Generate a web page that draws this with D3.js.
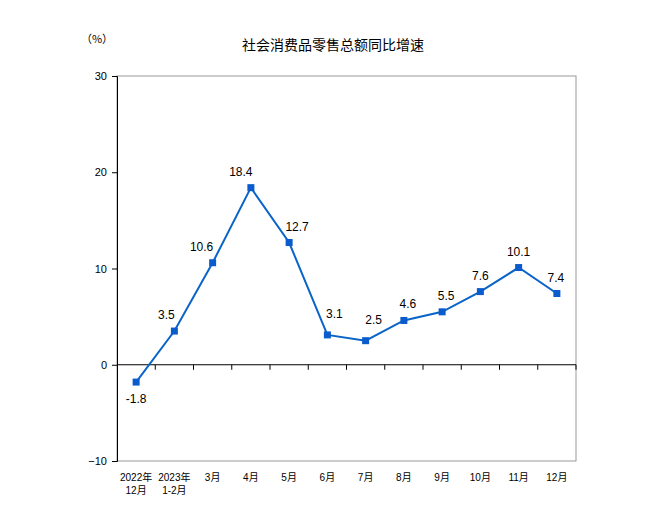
<!DOCTYPE html>
<html><head><meta charset="utf-8">
<script src="https://cdn.jsdelivr.net/npm/d3@7"></script>
<style>body{margin:0;background:#fff}svg{display:block}</style>
</head><body><div id="c"></div>
<script>
const categories = ["2022年\n12月","2023年\n1-2月","3月","4月","5月","6月","7月","8月","9月","10月","11月","12月"];
const values = [-1.8, 3.5, 10.6, 18.4, 12.7, 3.1, 2.5, 4.6, 5.5, 7.6, 10.1, 7.4];
const yTicks = [-10, 0, 10, 20, 30];
const title = "社会消费品零售总额同比增速";
const unit = "（%）";

const W = 664, H = 528;
const m = {l:117, r:88, t:76, b:67};
const svg = d3.select("#c").append("svg").attr("width", W).attr("height", H);
const font = "Arial, 'Liberation Sans', 'Noto Sans CJK SC', sans-serif";

const x = d3.scaleBand().domain(d3.range(categories.length)).range([m.l, W - m.r]);
const y = d3.scaleLinear().domain([-10, 30]).range([H - m.b, m.t]);

// frame (gray)
svg.append("rect").attr("x", m.l).attr("y", m.t).attr("width", W - m.r - m.l).attr("height", H - m.b - m.t)
  .attr("fill", "none").attr("stroke", "#999").attr("stroke-width", 1);

// y axis
const ya = svg.append("g").attr("transform", `translate(${m.l},0)`)
  .call(d3.axisLeft(y).tickValues(yTicks).tickSize(5).tickPadding(5));
ya.select(".domain").attr("stroke", "#000");
ya.selectAll(".tick line").attr("stroke", "#000");
ya.selectAll("text").attr("font-family", font).attr("font-size", 11).attr("fill", "#000");

// zero line with ticks at band boundaries
svg.append("line").attr("x1", m.l).attr("x2", W - m.r).attr("y1", y(0)).attr("y2", y(0)).attr("stroke", "#000");
svg.append("g").selectAll("line").data(d3.range(1, categories.length + 1)).join("line")
  .attr("x1", i => m.l + i * x.step()).attr("x2", i => m.l + i * x.step())
  .attr("y1", y(0)).attr("y2", y(0) + 5).attr("stroke", "#000");

// x labels
const xl = svg.append("g").selectAll("text").data(categories).join("text")
  .attr("font-family", font).attr("font-size", 10).attr("text-anchor", "middle").attr("fill", "#000");
xl.each(function(d, i){
  const lines = d.split("\n");
  const t = d3.select(this);
  lines.forEach((s, k) => t.append("tspan").attr("x", x(i) + x.bandwidth()/2).attr("y", H - m.b + 20 + k * 13).text(s));
});

// line
const cx = i => x(i) + x.bandwidth()/2;
svg.append("path").datum(values)
  .attr("d", d3.line().x((d,i) => cx(i)).y(d => y(d)))
  .attr("fill", "none").attr("stroke", "#0a64c8").attr("stroke-width", 2);
svg.append("g").selectAll("rect").data(values).join("rect")
  .attr("x", (d,i) => cx(i) - 3.5).attr("y", d => y(d) - 3.5).attr("width", 7).attr("height", 7)
  .attr("fill", "#0a5ccc");

// data labels
const labelShift = [0, -8, -11, -10, 8, 7, 8, 4, 4, 0, 0, -1];
svg.append("g").selectAll("text").data(values).join("text")
  .attr("x", (d,i) => cx(i) + labelShift[i])
  .attr("y", (d,i) => d < 0 ? y(d) + 21 : (i===5||i===6 ? y(d) - 17 : y(d) - 12))
  .attr("text-anchor", "middle").attr("font-family", font).attr("font-size", 12).attr("fill", "#000")
  .text(d => d.toFixed(1));

// title & unit
svg.append("text").attr("x", 333).attr("y", 50).attr("text-anchor", "middle")
  .attr("font-family", "'Noto Sans CJK SC', sans-serif").attr("font-size", 14).attr("fill", "#000").text(title);
svg.append("text").attr("x", 97).attr("y", 43).attr("text-anchor", "middle")
  .attr("font-family", "'Noto Sans CJK SC', sans-serif").attr("font-size", 11).attr("fill", "#000").text(unit);
</script></body></html>
